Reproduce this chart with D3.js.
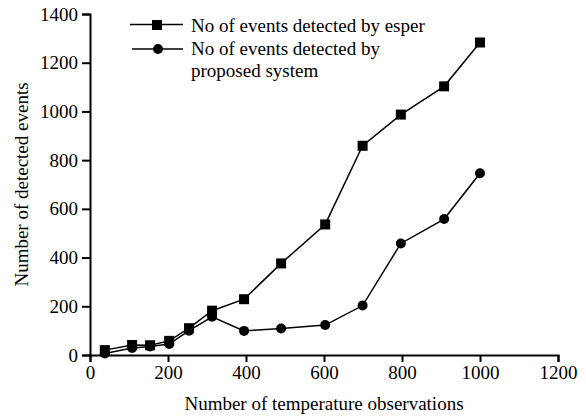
<!DOCTYPE html>
<html><head><meta charset="utf-8">
<script src="https://cdn.jsdelivr.net/npm/d3@7"></script>
<style>body{margin:0;background:#fff}svg{display:block}text{font-family:"Liberation Serif","Times New Roman",serif;fill:#000}</style>
</head><body><svg id="c" width="586" height="417"></svg>
<script>
const xTicks = [0,200,400,600,800,1000,1200];
const yTicks = [0,200,400,600,800,1000,1200,1400];
const esperX = [38,108,154,203,254,313,395,490,603,699,797,908,1000];
const esperY = [20,41,40,58,110,182,229,376,536,859,987,1103,1283];
const propX = [38,108,154,203,254,313,395,490,603,699,797,908,1000];
const propY = [6,29,35,45,100,157,99,109,123,203,458,558,746];
const seriesNames = ["No of events detected by esper","No of events detected by proposed system"];

const FF = '"Liberation Serif","Times New Roman",serif';
const FS = 19;
const svg = d3.select("#c");
const m = {l:90, r:28, t:14, b:62};
const W = 586, H = 417;
const x = d3.scaleLinear().domain([0,1200]).range([m.l, W-m.r]);
const y = d3.scaleLinear().domain([0,1400]).range([H-m.b, m.t]);

const xa = svg.append("g").attr("transform",`translate(0,${H-m.b})`)
  .call(d3.axisBottom(x).tickValues(xTicks).tickFormat(d3.format("d")).tickSizeOuter(0).tickSize(7).tickPadding(4));
const ya = svg.append("g").attr("transform",`translate(${m.l},0)`)
  .call(d3.axisLeft(y).tickValues(yTicks).tickFormat(d3.format("d")).tickSizeOuter(0).tickSize(8).tickPadding(4));
[xa,ya].forEach(a=>{
  a.attr("font-family",FF).attr("font-size",FS);
  a.select(".domain").attr("stroke","#000").attr("stroke-width",2);
  a.selectAll(".tick line").attr("stroke","#000").attr("stroke-width",2);
  a.selectAll("text").attr("font-family",FF).attr("font-size",FS).attr("fill","#000");
});

const line = d3.line().x(d=>x(d[0])).y(d=>y(d[1]));
const esper = esperX.map((v,i)=>[v,esperY[i]]);
const prop = propX.map((v,i)=>[v,propY[i]]);
svg.append("path").datum(prop).attr("d",line).attr("fill","none").attr("stroke","#000").attr("stroke-width",1.5);
svg.append("path").datum(esper).attr("d",line).attr("fill","none").attr("stroke","#000").attr("stroke-width",1.5);
svg.selectAll(".c").data(prop).enter().append("circle").attr("cx",d=>x(d[0])).attr("cy",d=>y(d[1])).attr("r",5).attr("fill","#000");
svg.selectAll(".s").data(esper).enter().append("rect").attr("x",d=>x(d[0])-5).attr("y",d=>y(d[1])-5).attr("width",10).attr("height",10).attr("fill","#000");

// legend
const lg = svg.append("g").attr("font-family",FF).attr("font-size",FS);
lg.append("line").attr("x1",130).attr("x2",183).attr("y1",24.5).attr("y2",24.5).attr("stroke","#000").attr("stroke-width",1.5);
lg.append("rect").attr("x",152).attr("y",20).attr("width",10).attr("height",10).attr("fill","#000");
lg.append("text").attr("x",191).attr("y",32).text(seriesNames[0]);
lg.append("line").attr("x1",132).attr("x2",183).attr("y1",49).attr("y2",49).attr("stroke","#000").attr("stroke-width",1.5);
lg.append("circle").attr("cx",158).attr("cy",49).attr("r",5).attr("fill","#000");
lg.append("text").attr("x",191).attr("y",55).text("No of events detected by");
lg.append("text").attr("x",191).attr("y",77).text("proposed system");

svg.append("text").attr("x",x(600)).attr("y",410).attr("text-anchor","middle").attr("font-family",FF).attr("font-size",FS).text("Number of temperature observations");
svg.append("text").attr("transform",`translate(28,${y(700)}) rotate(-90)`).attr("text-anchor","middle").attr("font-family",FF).attr("font-size",FS).text("Number of detected events");
</script></body></html>
